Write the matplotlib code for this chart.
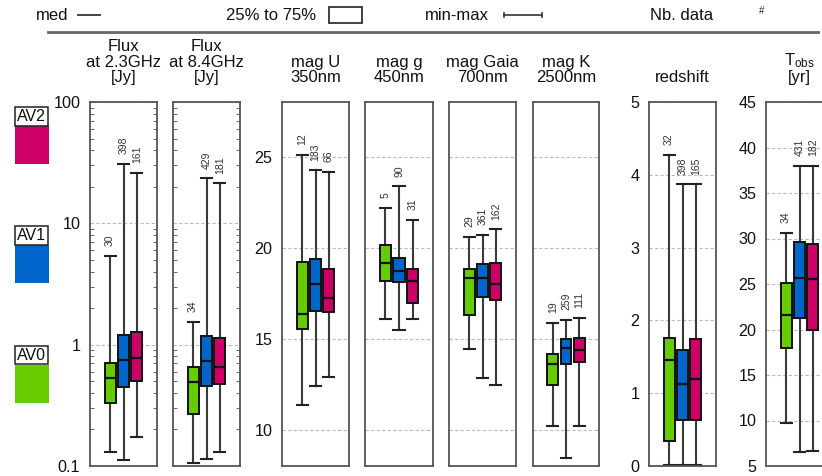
import matplotlib
matplotlib.use('Agg')
import matplotlib.pyplot as plt
from matplotlib.patches import Rectangle
from matplotlib.lines import Line2D

plt.rcParams['font.family'] = ['Liberation Sans', 'DejaVu Sans']

# ---------------- data ----------------
groups = ['AV0', 'AV1', 'AV2']
colors = ['#66cc00', '#0066cc', '#cc0066']

titles = ['Flux\nat 2.3GHz\n[Jy]', 'Flux\nat 8.4GHz\n[Jy]', 'mag U\n350nm', 'mag g\n450nm',
          'mag Gaia\n700nm', 'mag K\n2500nm', 'redshift', '$\\mathregular{T_{obs}}$\n[yr]']

# rows: AV0, AV1, AV2 ; columns: min, q1, median, q3, max
flux23_stats = [[0.13, 0.33, 0.53, 0.71, 5.4],
                [0.113, 0.45, 0.75, 1.2, 31.0],
                [0.174, 0.50, 0.77, 1.28, 26.0]]
flux23_counts = [30, 398, 161]

flux84_stats = [[0.105, 0.27, 0.49, 0.66, 1.55],
                [0.114, 0.455, 0.73, 1.18, 23.5],
                [0.13, 0.47, 0.66, 1.14, 21.4]]
flux84_counts = [34, 429, 181]

magU_stats = [[11.37, 15.5, 16.34, 19.2, 25.1],
              [12.4, 16.5, 17.98, 19.4, 24.25],
              [12.87, 16.44, 17.25, 18.8, 24.15]]
magU_counts = [12, 183, 66]

magg_stats = [[16.06, 18.17, 19.18, 20.13, 22.18],
              [15.46, 18.1, 18.7, 19.45, 23.37],
              [16.06, 16.98, 18.19, 18.8, 21.54]]
magg_counts = [5, 90, 31]

magGaia_stats = [[14.43, 16.28, 18.33, 18.82, 20.58],
                 [12.86, 17.31, 18.31, 19.08, 20.71],
                 [12.45, 17.14, 17.98, 19.18, 21.0]]
magGaia_counts = [29, 361, 162]

magK_stats = [[10.2, 12.47, 13.63, 14.15, 15.86],
              [8.46, 13.63, 14.48, 15.0, 16.04],
              [10.18, 13.74, 14.4, 15.02, 16.15]]
magK_counts = [19, 259, 111]

redshift_stats = [[0.02, 0.34, 1.45, 1.76, 4.27],
                  [0.02, 0.63, 1.12, 1.6, 3.87],
                  [0.02, 0.63, 1.19, 1.75, 3.87]]
redshift_counts = [32, 398, 165]

tobs_stats = [[9.73, 18.0, 21.56, 25.07, 30.64],
              [6.5, 21.23, 25.66, 29.58, 37.97],
              [6.65, 19.95, 25.5, 29.36, 37.97]]
tobs_counts = [34, 431, 182]

flux_ticks = [0.1, 1, 10, 100]
flux_ticklabels = ['0.1', '1', '10', '100']
mag_ticks = [10, 15, 20, 25]
z_ticks = [0, 1, 2, 3, 4, 5]
t_ticks = [5, 10, 15, 20, 25, 30, 35, 40, 45]

all_stats = [flux23_stats, flux84_stats, magU_stats, magg_stats, magGaia_stats,
             magK_stats, redshift_stats, tobs_stats]
all_counts = [flux23_counts, flux84_counts, magU_counts, magg_counts, magGaia_counts,
              magK_counts, redshift_counts, tobs_counts]
kinds = ['flux', 'flux', 'mag', 'mag', 'mag', 'mag', 'z', 't']
show_labels = [True, False, True, False, False, False, True, True]

# ---------------- layout ----------------
W, H = 822, 476
fig = plt.figure(figsize=(W / 100, H / 100), dpi=100)


def fx(x):
    return x / W


def fy(y):
    return 1 - y / H


panel_px = [(90, 157), (173, 240), (282, 349), (365, 433), (449, 516),
            (533, 599), (649, 716), (766, 833)]
top, bottom = 102, 466
positions = [-1, 0, 1]
spine_col = '#555555'
grid_kw = dict(linestyle=(0, (3, 2)), color='#bbbbbb', linewidth=0.8)

for i, (l, r) in enumerate(panel_px):
    ax = fig.add_axes([fx(l), fy(bottom), (r - l) / W, (bottom - top) / H])
    stats = all_stats[i]
    counts = all_counts[i]
    kind = kinds[i]
    bxpstats = [dict(whislo=s[0], q1=s[1], med=s[2], q3=s[3], whishi=s[4], fliers=[])
                for s in stats]
    art = ax.bxp(bxpstats, positions=positions, widths=0.82, capwidths=0.82,
                 patch_artist=True, showfliers=False,
                 boxprops=dict(edgecolor='#111111', linewidth=1.4),
                 medianprops=dict(color='#111111', linewidth=1.6),
                 whiskerprops=dict(color='#3a3a3a', linewidth=1.5),
                 capprops=dict(color='#222222', linewidth=1.5))
    for b, c in zip(art['boxes'], colors):
        b.set_facecolor(c)
        b.set_zorder(3)
    for m in art['medians']:
        m.set_zorder(4)
    for key in ('caps', 'whiskers'):
        for m in art[key]:
            m.set_clip_on(False)
    ax.set_xlim(-2.5, 2.5)
    ax.set_xticks([])

    if kind == 'flux':
        ax.set_yscale('log')
        ax.set_ylim(0.1, 100)
        ax.set_yticks(flux_ticks)
        ax.set_yticklabels(flux_ticklabels)
        ax.tick_params(axis='y', which='minor', direction='in', length=3, width=0.7,
                       left=True, right=True, color='#666666')
        ax.tick_params(axis='y', which='major', length=0)
    elif kind == 'mag':
        ax.set_ylim(8, 28)
        ax.set_yticks(mag_ticks)
        ax.tick_params(axis='y', which='major', length=0)
    elif kind == 'z':
        ax.set_ylim(0, 5)
        ax.set_yticks(z_ticks)
        ax.tick_params(axis='y', which='major', length=0)
    else:
        ax.set_ylim(5, 45)
        ax.set_yticks(t_ticks)
        ax.tick_params(axis='y', which='major', length=0)
    ax.yaxis.grid(True, which='major', **grid_kw)
    ax.set_axisbelow(True)
    ax.tick_params(axis='y', which='major', pad=7, labelsize=11.6, labelcolor='#111111')
    if not show_labels[i]:
        ax.tick_params(axis='y', which='both', labelleft=False)
    for sp in ax.spines.values():
        sp.set_color(spine_col)
        sp.set_linewidth(1.3)

    for p, s, n in zip(positions, stats, counts):
        ax.annotate(str(n), xy=(p, s[4]), xytext=(0, 7), textcoords='offset points',
                    rotation=90, ha='center', va='bottom', fontsize=7.5, color='#333333')

    ax.annotate(titles[i], xy=(0.5, 1), xycoords='axes fraction', xytext=(0, 12),
                textcoords='offset points', ha='center', va='bottom', fontsize=12,
                linespacing=1.05, color='#111111')

# ---------------- top legend ----------------
leg_fs = 12
fig.text(fx(36), fy(15), 'med', ha='left', va='center', fontsize=leg_fs, color='#111111')
fig.lines.append(Line2D([fx(78), fx(100)], [fy(15), fy(15)], transform=fig.transFigure,
                        color='#333333', lw=1.3))
fig.text(fx(226), fy(15), '25% to 75%', ha='left', va='center', fontsize=leg_fs, color='#111111')
fig.patches.append(Rectangle((fx(329), fy(23)), 33 / W, 16 / H, transform=fig.transFigure,
                             fc='white', ec='#333333', lw=1.3))
fig.text(fx(425), fy(15), 'min-max', ha='left', va='center', fontsize=leg_fs, color='#111111')
fig.lines.append(Line2D([fx(504), fx(542)], [fy(15), fy(15)], transform=fig.transFigure,
                        color='#333333', lw=1.2))
for xx in (504, 542):
    fig.lines.append(Line2D([fx(xx), fx(xx)], [fy(13), fy(17)], transform=fig.transFigure,
                            color='#333333', lw=1.2))
fig.text(fx(650), fy(15), 'Nb. data', ha='left', va='center', fontsize=leg_fs, color='#111111')
fig.text(fx(762), fy(11), '#', ha='center', va='center', fontsize=7, color='#333333')
fig.lines.append(Line2D([fx(48), fx(818)], [fy(32), fy(32)], transform=fig.transFigure,
                        color='#666666', lw=2))

# ---------------- left legend ----------------
leg_y = [(345, 365, 403), (226, 245, 283), (108, 125, 164)]
for g, c, (ly, py0, py1) in zip(groups, colors, leg_y):
    fig.patches.append(Rectangle((fx(15), fy(py1)), 34 / W, (py1 - py0) / H,
                                 transform=fig.transFigure, fc=c, ec='none'))
    fig.text(fx(31.5), fy((ly + py0) / 2), g, ha='center', va='center', fontsize=11.5,
             color='#111111',
             bbox=dict(boxstyle='square,pad=0.1', fc='white', ec='#222222', lw=1.1))

fig.savefig('out.png', dpi=100)
